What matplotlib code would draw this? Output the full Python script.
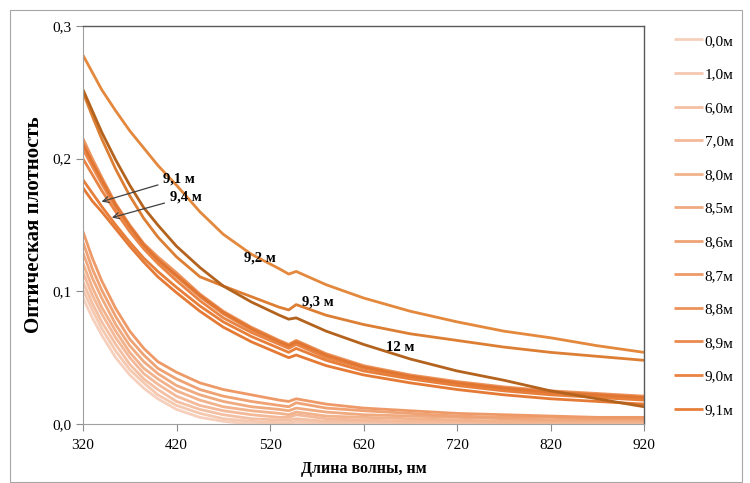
import matplotlib
matplotlib.use("Agg")
import matplotlib.pyplot as plt
from matplotlib.patches import Rectangle

plt.rcParams['font.family'] = ['Liberation Serif', 'DejaVu Serif']

# wavelength grid, nm
wl = [320, 330, 340, 355, 370, 385, 400, 420, 445, 470, 500, 530, 540, 548,
      580, 620, 670, 720, 770, 820, 870, 920]

# optical density curves
d00 = [0.095, 0.080, 0.067, 0.050, 0.037, 0.027, 0.019, 0.011, 0.005, 0.002, 0.000,
       0.000, 0.000, 0.000, 0.000, 0.000, 0.000, 0.000, 0.000, 0.000, 0.000, 0.000]
d10 = [0.101, 0.086, 0.072, 0.055, 0.041, 0.031, 0.022, 0.014, 0.008, 0.004, 0.002,
       0.001, 0.001, 0.002, 0.001, 0.001, 0.001, 0.000, 0.000, 0.000, 0.000, 0.000]
d60 = [0.107, 0.091, 0.077, 0.060, 0.045, 0.034, 0.026, 0.017, 0.011, 0.007, 0.004,
       0.003, 0.003, 0.004, 0.002, 0.002, 0.001, 0.001, 0.001, 0.001, 0.000, 0.000]
d70 = [0.114, 0.097, 0.083, 0.065, 0.050, 0.038, 0.030, 0.021, 0.014, 0.010, 0.007,
       0.005, 0.005, 0.007, 0.004, 0.003, 0.002, 0.002, 0.001, 0.001, 0.001, 0.001]
d80 = [0.121, 0.103, 0.088, 0.070, 0.054, 0.042, 0.034, 0.025, 0.018, 0.013, 0.010,
       0.008, 0.007, 0.009, 0.006, 0.005, 0.004, 0.003, 0.002, 0.002, 0.002, 0.002]
d85 = [0.129, 0.110, 0.095, 0.075, 0.059, 0.047, 0.038, 0.029, 0.022, 0.017, 0.013,
       0.011, 0.010, 0.012, 0.009, 0.007, 0.006, 0.005, 0.004, 0.003, 0.003, 0.003]
d86 = [0.137, 0.117, 0.101, 0.081, 0.064, 0.052, 0.042, 0.034, 0.026, 0.021, 0.017,
       0.014, 0.013, 0.016, 0.012, 0.010, 0.008, 0.006, 0.005, 0.005, 0.004, 0.004]
d87 = [0.145, 0.125, 0.108, 0.087, 0.070, 0.057, 0.047, 0.039, 0.031, 0.026, 0.022,
       0.018, 0.017, 0.019, 0.015, 0.012, 0.010, 0.008, 0.007, 0.006, 0.005, 0.005]
d88 = [0.215, 0.200, 0.186, 0.166, 0.150, 0.136, 0.126, 0.114, 0.098, 0.085, 0.073,
       0.063, 0.060, 0.063, 0.053, 0.044, 0.037, 0.032, 0.028, 0.025, 0.023, 0.021]
d89 = [0.207, 0.194, 0.181, 0.163, 0.148, 0.134, 0.123, 0.111, 0.096, 0.083, 0.071,
       0.061, 0.058, 0.061, 0.051, 0.043, 0.036, 0.031, 0.027, 0.024, 0.022, 0.020]
d90 = [0.200, 0.188, 0.176, 0.160, 0.145, 0.132, 0.121, 0.108, 0.093, 0.080, 0.069,
       0.060, 0.057, 0.060, 0.050, 0.042, 0.035, 0.030, 0.026, 0.023, 0.021, 0.019]
d91 = [0.184, 0.174, 0.164, 0.150, 0.137, 0.125, 0.115, 0.103, 0.089, 0.077, 0.066,
       0.057, 0.054, 0.057, 0.048, 0.040, 0.034, 0.029, 0.025, 0.022, 0.020, 0.018]
d92 = [0.278, 0.265, 0.252, 0.236, 0.221, 0.208, 0.195, 0.180, 0.160, 0.143, 0.128,
       0.117, 0.113, 0.115, 0.105, 0.095, 0.085, 0.077, 0.070, 0.065, 0.059, 0.054]
d93 = [0.250, 0.232, 0.215, 0.192, 0.172, 0.155, 0.141, 0.126, 0.111, 0.104, 0.096,
       0.088, 0.086, 0.090, 0.082, 0.075, 0.068, 0.063, 0.058, 0.054, 0.051, 0.048]
d94 = [0.178, 0.168, 0.160, 0.147, 0.134, 0.122, 0.111, 0.099, 0.085, 0.073, 0.062,
       0.053, 0.050, 0.052, 0.044, 0.037, 0.031, 0.026, 0.022, 0.019, 0.017, 0.015]
d95 = [0.211, 0.197, 0.184, 0.165, 0.149, 0.135, 0.124, 0.112, 0.097, 0.084, 0.072,
       0.062, 0.059, 0.062, 0.052, 0.043, 0.036, 0.031, 0.027, 0.024, 0.022, 0.020]
d12 = [0.252, 0.236, 0.220, 0.199, 0.180, 0.163, 0.150, 0.134, 0.118, 0.104, 0.092,
       0.082, 0.079, 0.080, 0.070, 0.060, 0.049, 0.040, 0.033, 0.025, 0.019, 0.013]

series = [d00, d10, d60, d70, d80, d85, d86, d87, d88, d89, d90, d91,
          d92, d93, d94, d95, d12]
labels = ['0,0м', '1,0м', '6,0м', '7,0м', '8,0м', '8,5м', '8,6м', '8,7м', '8,8м',
          '8,9м', '9,0м', '9,1м', '9,2м', '9,3м', '9,4м', '9,5м', '12м']
colors = ['#F6D0BC', '#F5C8B0', '#F4C0A4', '#F3B998', '#F2B28C', '#F0AA80',
          '#EFA274', '#EE9A68', '#EC925B', '#EA8A4F', '#E98444', '#E77E3A',
          '#E3883C', '#DC7E33', '#E47A35', '#E07632', '#B3631E']

fig = plt.figure(figsize=(7.5, 4.83), dpi=100)
fig.patches.append(Rectangle((10 / 750, 1 / 483), 732 / 750, 472 / 483,
                             transform=fig.transFigure, fill=False,
                             edgecolor='#A6A6A6', linewidth=0.8))
ax = fig.add_axes([83 / 750, 59 / 483, 561 / 750, 398 / 483])

handles = []
for y, lab, c in zip(series, labels, colors):
    h, = ax.plot(wl, y, color=c, linewidth=2.0, solid_capstyle='butt')
    handles.append(h)

ax.set_xlim(320, 920)
ax.set_ylim(0, 0.3)
ax.set_xticks([320, 420, 520, 620, 720, 820, 920])
ax.set_yticks([0.0, 0.1, 0.2, 0.3])
ax.set_yticklabels(['0,0', '0,1', '0,2', '0,3'])
ax.tick_params(labelsize=11, color='#8C8C8C', length=5, width=0.8)
ax.tick_params(axis='x', pad=6)
for s in ['left', 'bottom']:
    ax.spines[s].set_color('#A0A0A0')
for s in ['top', 'right']:
    ax.spines[s].set_color('#5A5A5A')
    ax.spines[s].set_linewidth(1.0)

ax.set_xlabel('Длина волны, нм', fontsize=11.5, fontweight='bold', labelpad=6)
ax.set_ylabel('Оптическая плотность', fontsize=15, fontweight='bold', labelpad=6)

ann = dict(fontsize=10.5, fontweight='bold')
ax.annotate('9,1 м', xy=(337, 0.167), xytext=(406, 0.185), va='center', ha='left',
            arrowprops=dict(arrowstyle='->', color='#404040', lw=0.9), **ann)
ax.annotate('9,4 м', xy=(348, 0.155), xytext=(413, 0.171), va='center', ha='left',
            arrowprops=dict(arrowstyle='->', color='#404040', lw=0.9), **ann)
ax.text(509, 0.125, '9,2 м', ha='center', va='center', **ann)
ax.text(571, 0.092, '9,3 м', ha='center', va='center', **ann)
ax.text(659, 0.058, '12 м', ha='center', va='center', **ann)

# Excel legend is cut off after 9,1м
fig.legend(handles[:12], labels[:12], loc='upper left',
           bbox_to_anchor=(668 / 750, 1 - 28 / 483), frameon=False,
           fontsize=11, labelspacing=1.30, handlelength=1.9,
           handletextpad=0.1, borderaxespad=0)

fig.savefig('out.png', dpi=100)
